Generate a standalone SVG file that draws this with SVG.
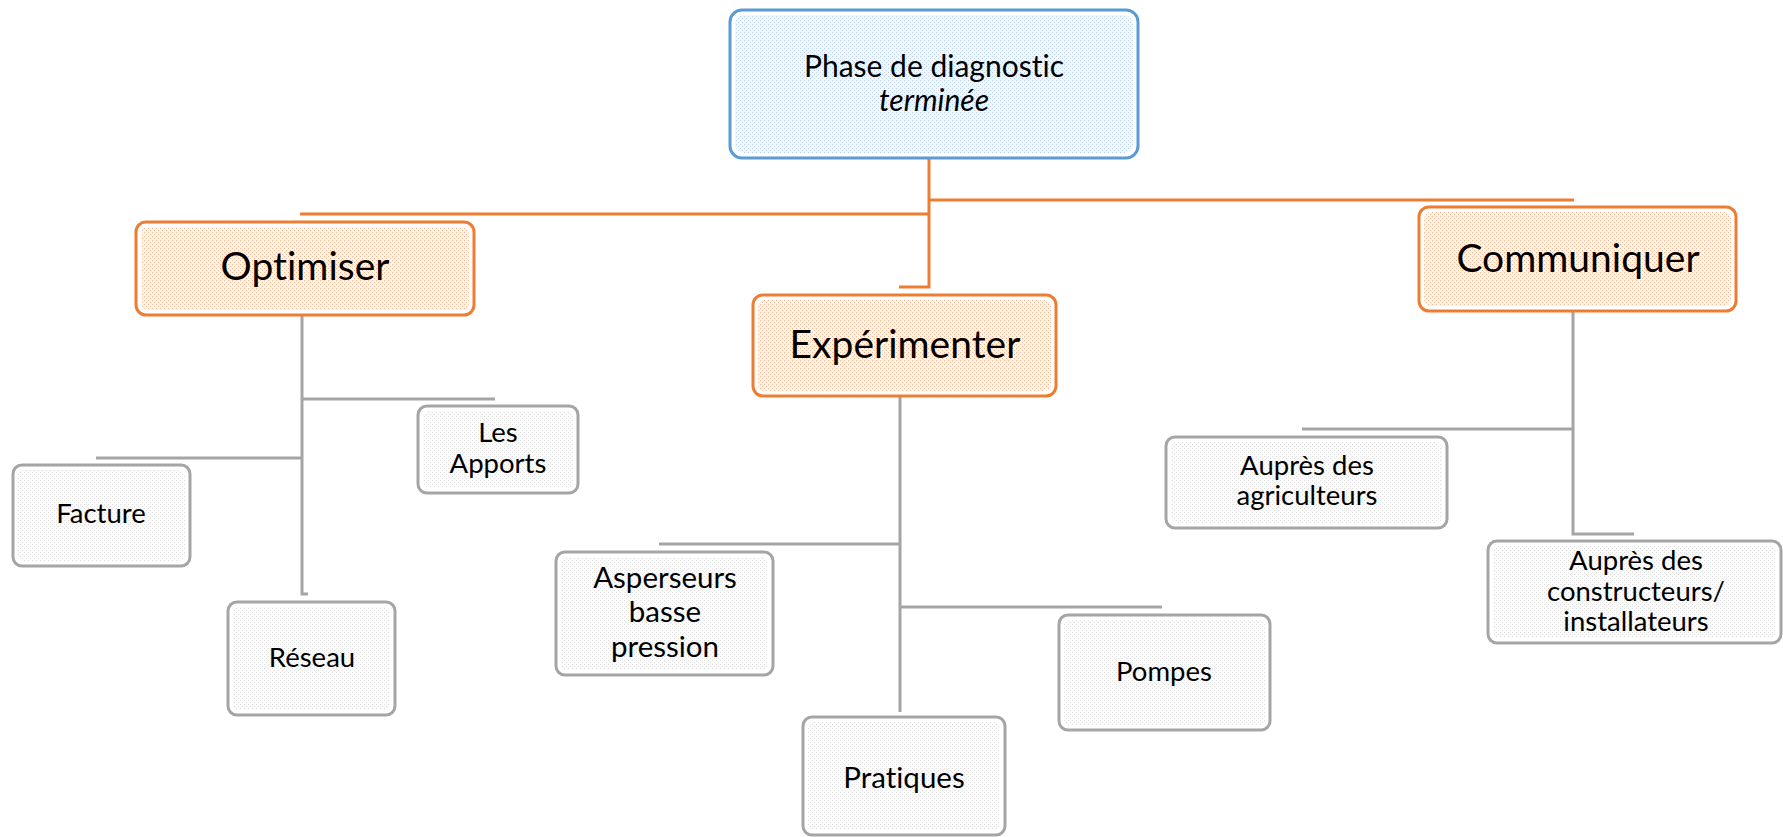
<svg xmlns="http://www.w3.org/2000/svg" width="1783" height="837" viewBox="0 0 1783 837">
<style>
.t{font-family:Lato,"Liberation Sans",sans-serif;fill:#000;text-anchor:middle;font-variant-ligatures:none;font-feature-settings:"liga" 0,"dlig" 0}
.big{font-size:39px}
.sm{font-size:27.5px}
.md{font-size:29.5px}
.blue{fill:#fff;stroke:#5b9bd5;stroke-width:3}
.or{fill:#fff;stroke:#ed7d31;stroke-width:3}
.gr{fill:#fff;stroke:#a5a5a5;stroke-width:3}
.ib{fill:url(#pb)}
.io{fill:url(#po)}
.ig{fill:url(#pg)}
.co{fill:none;stroke:#ed7d31;stroke-width:3}
.cg{fill:none;stroke:#a5a5a5;stroke-width:3}
</style>
<defs>
<pattern id="pb" width="4" height="4" patternUnits="userSpaceOnUse"><rect width="4" height="4" fill="#f3f7fc"/><rect width="1" height="1" fill="#b8d1ec"/><rect x="2" y="2" width="1" height="1" fill="#b8d1ec"/></pattern>
<pattern id="po" width="4" height="4" patternUnits="userSpaceOnUse"><rect width="4" height="4" fill="#fef5ef"/><rect width="1" height="1" fill="#f6b68e"/><rect x="2" y="2" width="1" height="1" fill="#f6b68e"/></pattern>
<pattern id="pg" width="4" height="4" patternUnits="userSpaceOnUse"><rect width="4" height="4" fill="#fbfbfb"/><rect width="1" height="1" fill="#e0e0e0"/><rect x="2" y="2" width="1" height="1" fill="#e0e0e0"/></pattern>
</defs>
<g id="connectors">
<path class="co" d="M929,158 V287 H899"/>
<path class="co" d="M300,214 H929"/>
<path class="co" d="M929,200 H1574"/>
<path class="cg" d="M302,315 V594 H308"/>
<path class="cg" d="M302,399 H495"/>
<path class="cg" d="M96,458 H302"/>
<path class="cg" d="M900,396 V712"/>
<path class="cg" d="M659,544 H900"/>
<path class="cg" d="M900,607 H1162"/>
<path class="cg" d="M1573,311 V534 H1634"/>
<path class="cg" d="M1302,429 H1573"/>
</g>
<g id="root"><rect class="blue" x="730" y="10" width="408" height="148" rx="12"/><rect class="ib" x="735" y="15" width="398" height="138" rx="9"/>
<text class="t" x="934" y="77" font-size="30">Phase de diagnostic</text>
<text class="t" x="934" y="111" font-size="30" font-style="italic">terminée</text></g>
<g id="optimiser"><rect class="or" x="136" y="222" width="338" height="93" rx="10"/><rect class="io" x="141" y="227" width="328" height="83" rx="7"/>
<text class="t big" x="305" y="280">Optimiser</text></g>
<g id="experimenter"><rect class="or" x="753" y="295" width="303" height="101" rx="10"/><rect class="io" x="758" y="300" width="293" height="91" rx="7"/>
<text class="t big" x="905" y="358">Expérimenter</text></g>
<g id="communiquer"><rect class="or" x="1419" y="207" width="317" height="104" rx="10"/><rect class="io" x="1424" y="212" width="307" height="94" rx="7"/>
<text class="t big" x="1578" y="272">Communiquer</text></g>
<g id="apports"><rect class="gr" x="418" y="406" width="160" height="87" rx="9"/><rect class="ig" x="423" y="411" width="150" height="77" rx="6"/>
<text class="t sm" x="498" y="442">Les</text><text class="t sm" x="498" y="473">Apports</text></g>
<g id="facture"><rect class="gr" x="13" y="465" width="177" height="101" rx="9"/><rect class="ig" x="18" y="470" width="167" height="91" rx="6"/>
<text class="t sm" x="101" y="523">Facture</text></g>
<g id="reseau"><rect class="gr" x="228" y="602" width="167" height="113" rx="9"/><rect class="ig" x="233" y="607" width="157" height="103" rx="6"/>
<text class="t sm" x="312" y="667">Réseau</text></g>
<g id="asperseurs"><rect class="gr" x="556" y="552" width="217" height="123" rx="9"/><rect class="ig" x="561" y="557" width="207" height="113" rx="6"/>
<text class="t md" x="665" y="588">Asperseurs</text><text class="t md" x="665" y="622">basse</text><text class="t md" x="665" y="657">pression</text></g>
<g id="pompes"><rect class="gr" x="1059" y="615" width="211" height="115" rx="9"/><rect class="ig" x="1064" y="620" width="201" height="105" rx="6"/>
<text class="t sm" x="1164" y="681">Pompes</text></g>
<g id="pratiques"><rect class="gr" x="803" y="717" width="202" height="118" rx="9"/><rect class="ig" x="808" y="722" width="192" height="108" rx="6"/>
<text class="t md" x="904" y="788">Pratiques</text></g>
<g id="agriculteurs"><rect class="gr" x="1166" y="437" width="281" height="91" rx="9"/><rect class="ig" x="1171" y="442" width="271" height="81" rx="6"/>
<text class="t sm" x="1307" y="475">Auprès des</text><text class="t sm" x="1307" y="505">agriculteurs</text></g>
<g id="constructeurs"><rect class="gr" x="1488" y="541" width="293" height="102" rx="9"/><rect class="ig" x="1493" y="546" width="283" height="92" rx="6"/>
<text class="t sm" x="1636" y="570">Auprès des</text><text class="t sm" x="1636" y="601">constructeurs/</text><text class="t sm" x="1636" y="631">installateurs</text></g>
</svg>
